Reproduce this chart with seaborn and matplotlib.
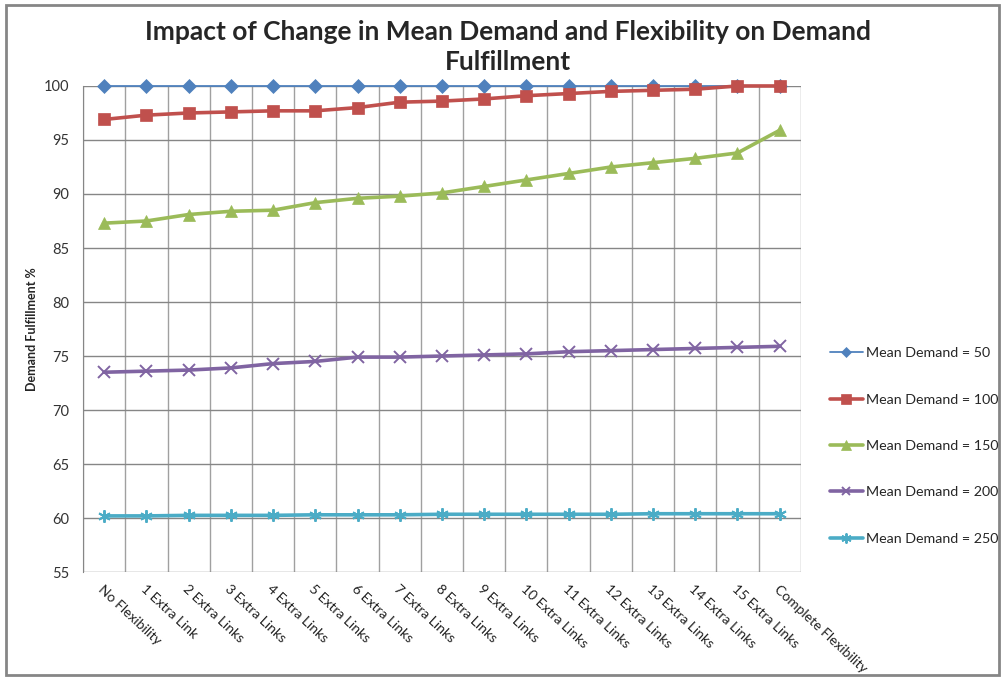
import pandas as pd
import seaborn as sns
import matplotlib.pyplot as plt
from matplotlib.patches import Rectangle

categories = ["No Flexibility", "1 Extra Link", "2 Extra Links", "3 Extra Links",
              "4 Extra Links", "5 Extra Links", "6 Extra Links", "7 Extra Links",
              "8 Extra Links", "9 Extra Links", "10 Extra Links", "11 Extra Links",
              "12 Extra Links", "13 Extra Links", "14 Extra Links", "15 Extra Links",
              "Complete Flexibility"]

demand_50 = [100] * 17
demand_100 = [96.9, 97.3, 97.5, 97.6, 97.7, 97.7, 98.0, 98.5, 98.6, 98.8, 99.1,
              99.3, 99.5, 99.6, 99.7, 100, 100]
demand_150 = [87.3, 87.5, 88.1, 88.4, 88.5, 89.2, 89.6, 89.8, 90.1, 90.7, 91.3,
              91.9, 92.5, 92.9, 93.3, 93.8, 95.9]
demand_200 = [73.5, 73.6, 73.7, 73.9, 74.3, 74.5, 74.9, 74.9, 75.0, 75.1, 75.2,
              75.4, 75.5, 75.6, 75.7, 75.8, 75.9]
demand_250 = [60.2, 60.2, 60.25, 60.25, 60.25, 60.3, 60.3, 60.3, 60.35, 60.35, 60.35,
              60.35, 60.35, 60.4, 60.4, 60.4, 60.4]

series_labels = ["Mean Demand = 50", "Mean Demand = 100", "Mean Demand = 150",
                 "Mean Demand = 200", "Mean Demand = 250"]
y_ticks = [55, 60, 65, 70, 75, 80, 85, 90, 95, 100]

colors = ["#4F81BD", "#C0504D", "#9BBB59", "#8064A2", "#4BACC6"]
markers = ["D", "s", "^", "x", (6, 2, 0)]
msizes = [7, 9, 9, 8, 9]
widths = [1.3, 2.6, 2.6, 2.6, 2.6]

sns.set_style("white")
plt.rcParams["font.family"] = ["Lato", "DejaVu Sans"]

fig = plt.figure(figsize=(10.01, 6.77), dpi=100)
ax = fig.add_axes([0.083, 0.155, 0.717, 0.718])

all_series = [demand_50, demand_100, demand_150, demand_200, demand_250]
positions = list(range(len(categories)))
for vals, label, c, m, ms, lw in zip(all_series, series_labels, colors, markers, msizes, widths):
    df = pd.DataFrame({"pos": positions, "value": vals})
    sns.lineplot(data=df, x="pos", y="value", ax=ax, color=c, marker=m,
                 markersize=ms, linewidth=lw, markeredgecolor=c,
                 markeredgewidth=1.4 if m in ("x", (6, 2, 0)) else 0.5,
                 label=label, legend=False, clip_on=False, zorder=3)

ax.set_xlim(-0.5, len(categories) - 0.5)
ax.set_ylim(55, 100)
ax.set_yticks(y_ticks)
ax.set_yticklabels([str(t) for t in y_ticks], fontsize=10.5, color="#333333")
ax.tick_params(axis="y", length=0, pad=10)

ax.set_xticks(positions)
ax.set_xticklabels(categories, rotation=-43, ha="left", va="top",
                   rotation_mode="anchor", fontsize=10, color="#222222")
ax.tick_params(axis="x", which="major", length=0, pad=8)
ax.set_xticks([p + 0.5 for p in positions[:-1]] + [-0.5, len(categories) - 0.5], minor=True)
ax.tick_params(axis="x", which="minor", length=5, color="#868686")

ax.grid(axis="y", which="major", color="#868686", linewidth=1)
ax.grid(axis="x", which="minor", color="#a0a0a0", linewidth=1)
ax.set_axisbelow(True)
for side in ["top", "right", "bottom"]:
    ax.spines[side].set_visible(False)
ax.spines["left"].set_color("#868686")

ax.set_xlabel("")
ax.set_ylabel("Demand Fulfillment %", fontsize=9, fontweight="bold", labelpad=4)

fig.text(0.507, 0.93, "Impact of Change in Mean Demand and Flexibility on Demand\nFulfillment",
         ha="center", va="center", fontsize=19, fontweight="bold", linespacing=1.3)

handles, labels = ax.get_legend_handles_labels()
fig.legend(handles, labels, loc="center left", bbox_to_anchor=(0.829, 0.341),
           frameon=False, fontsize=10.3, labelspacing=2.4, handlelength=2.3,
           handletextpad=0.2, markerscale=0.8, borderaxespad=0, borderpad=0)

fig.patches.append(Rectangle((0.006, 0.003), 0.992, 0.99, transform=fig.transFigure,
                             fill=False, edgecolor="#868686", linewidth=2))

fig.savefig("out.png", dpi=100)
